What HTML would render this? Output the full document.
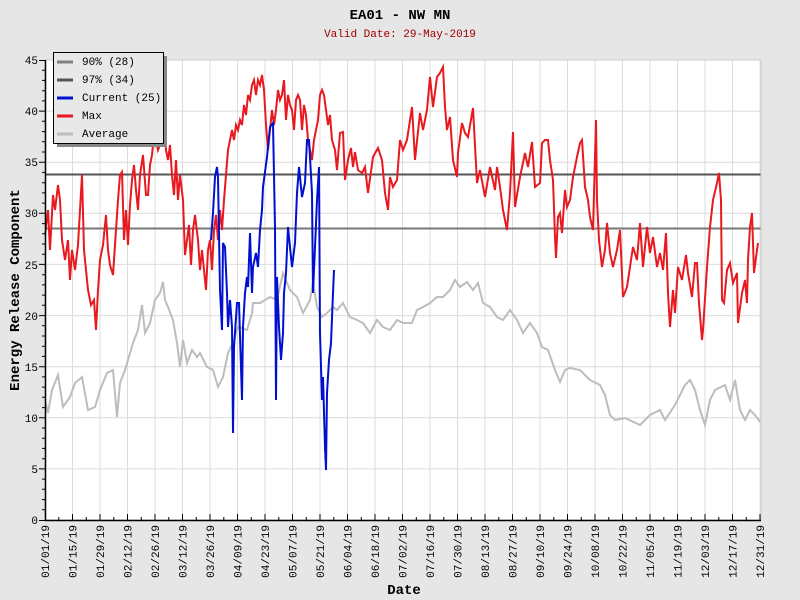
<!DOCTYPE html>
<html><head><meta charset="utf-8"><style>
body{margin:0;background:#e6e6e6;}
svg{display:block;font-family:"Liberation Mono","DejaVu Sans Mono",monospace;}
</style></head><body>
<svg width="800" height="600" viewBox="0 0 800 600">
<rect x="0" y="0" width="800" height="600" fill="#e6e6e6"/>
<rect x="45" y="60" width="716" height="460" fill="#fff"/>
<g stroke="#dcdcdc" stroke-width="1">
<line x1="72.5" y1="60" x2="72.5" y2="520"/><line x1="100" y1="60" x2="100" y2="520"/><line x1="127.5" y1="60" x2="127.5" y2="520"/><line x1="155" y1="60" x2="155" y2="520"/><line x1="182.5" y1="60" x2="182.5" y2="520"/><line x1="210" y1="60" x2="210" y2="520"/><line x1="237.5" y1="60" x2="237.5" y2="520"/><line x1="265" y1="60" x2="265" y2="520"/><line x1="292.5" y1="60" x2="292.5" y2="520"/><line x1="320" y1="60" x2="320" y2="520"/><line x1="347.5" y1="60" x2="347.5" y2="520"/><line x1="375" y1="60" x2="375" y2="520"/><line x1="402.5" y1="60" x2="402.5" y2="520"/><line x1="430" y1="60" x2="430" y2="520"/><line x1="457.5" y1="60" x2="457.5" y2="520"/><line x1="485" y1="60" x2="485" y2="520"/><line x1="512.5" y1="60" x2="512.5" y2="520"/><line x1="540" y1="60" x2="540" y2="520"/><line x1="567.5" y1="60" x2="567.5" y2="520"/><line x1="595" y1="60" x2="595" y2="520"/><line x1="622.5" y1="60" x2="622.5" y2="520"/><line x1="650" y1="60" x2="650" y2="520"/><line x1="677.5" y1="60" x2="677.5" y2="520"/><line x1="705" y1="60" x2="705" y2="520"/><line x1="732.5" y1="60" x2="732.5" y2="520"/><line x1="760" y1="60" x2="760" y2="520"/>
<line x1="45" y1="468.9" x2="761" y2="468.9"/><line x1="45" y1="417.8" x2="761" y2="417.8"/><line x1="45" y1="366.7" x2="761" y2="366.7"/><line x1="45" y1="315.6" x2="761" y2="315.6"/><line x1="45" y1="264.4" x2="761" y2="264.4"/><line x1="45" y1="213.3" x2="761" y2="213.3"/><line x1="45" y1="162.2" x2="761" y2="162.2"/><line x1="45" y1="111.1" x2="761" y2="111.1"/><line x1="45" y1="60" x2="761" y2="60"/>
</g>
<line x1="45" y1="174.5" x2="761" y2="174.5" stroke="#555" stroke-width="2"/>
<line x1="45" y1="228.5" x2="761" y2="228.5" stroke="#777" stroke-width="2"/>
<polyline fill="none" stroke="#bdbdbd" stroke-width="2" points="45,400 48,413 52,390 58,375 63,407 70,397 75,383 82,377 88,410 95,407 100,390 107,373 113,370 117,417 120,383 125,370 128,360 133,343 138,330 142,305 145,333 150,323 155,300 160,293 163,282 165,300 168,307 173,320 177,343 180,367 183,340 187,363 192,350 197,357 200,353 207,367 213,370 218,387 223,377 228,353 233,343 238,327 247,330 252,313 253,303 260,303 270,297 277,300 283,273 290,290 297,297 303,313 310,300 313,282 317,307 322,317 327,313 333,307 337,310 343,303 350,317 357,320 363,323 370,333 377,320 383,327 390,330 397,320 403,323 412,323 417,310 423,307 430,303 437,297 443,297 450,290 455,280 460,287 467,282 473,290 478,283 483,303 490,307 497,317 503,320 510,310 517,320 523,333 530,323 537,333 542,347 548,350 555,370 560,382 565,370 570,368 580,370 590,380 600,385 605,395 610,415 615,420 625,418 640,425 650,415 660,410 665,420 675,405 685,385 690,380 695,390 700,410 705,425 710,400 715,390 725,385 730,400 735,380 740,410 745,420 750,410 755,415 760,422"/>
<polyline fill="none" stroke="#e8191f" stroke-width="2" points="45,235 48,210 50,250 53,195 55,210 58,185 60,200 62,240 65,260 68,240 70,280 72,250 75,270 78,245 80,210 82,175 84,250 86,270 88,290 91,305 94,300 96,330 98,290 100,260 103,245 106,215 108,250 110,265 113,275 116,230 118,200 120,175 122,172 124,240 126,210 128,245 130,205 132,180 134,165 136,190 138,210 140,175 143,155 146,195 148,195 150,165 152,155 154,135 156,140 158,150 160,145 162,130 164,125 166,150 168,160 170,145 172,175 174,195 176,160 178,200 180,175 183,200 185,255 187,240 189,225 191,265 193,230 195,215 198,240 200,270 202,250 204,270 206,290 208,250 210,240 212,270 214,230 216,215 218,240 220,210 222,230 224,200 226,175 228,150 230,140 232,130 234,140 236,125 238,130 240,120 242,125 244,105 246,115 248,95 250,100 252,85 254,80 256,95 258,80 260,85 262,75 264,90 266,125 268,150 270,130 272,110 274,125 276,110 278,90 280,100 282,95 284,80 286,120 288,95 290,105 292,110 294,130 296,100 298,95 300,100 302,130 304,105 306,115 308,140 310,150 312,160 314,140 316,130 318,120 320,95 322,90 324,95 326,110 328,125 330,115 332,140 335,150 337,170 340,133 343,132 345,180 348,160 351,148 353,167 355,152 358,170 362,173 365,167 368,193 373,157 378,148 382,160 385,193 388,210 390,177 393,187 397,180 400,140 403,150 407,140 412,107 415,160 420,113 423,130 427,110 430,77 433,107 437,77 440,73 443,67 445,107 447,130 450,117 453,160 457,177 458,153 462,123 465,133 468,137 473,108 477,183 480,170 485,197 490,167 495,190 497,167 500,187 503,210 507,230 510,193 513,132 515,207 520,177 525,153 528,167 532,142 535,187 540,183 542,143 545,140 548,140 550,160 553,180 555,237 556,258 558,217 560,213 562,233 565,190 567,207 570,200 573,177 577,157 580,143 582,140 585,187 588,200 590,217 593,230 596,120 597,200 599,240 602,267 605,250 607,223 610,253 613,267 617,250 620,230 623,297 627,287 630,267 633,247 637,260 640,223 643,267 647,227 650,253 653,237 657,267 660,253 663,270 666,233 668,293 670,327 673,290 675,313 678,267 682,280 686,255 688,273 692,297 695,263 697,263 699,303 702,340 703,330 707,267 710,227 713,200 717,183 719,173 721,200 722,300 724,303 727,270 730,263 733,283 737,273 738,323 742,293 745,280 747,303 748,260 750,227 752,213 754,273 757,250 758,243"/>
<polyline fill="none" stroke="#0010d0" stroke-width="2" points="211,240 213,213 215,177 217,167 218,177 220,290 222,330 223,243 225,247 227,293 228,327 230,300 232,327 233,433 234,347 237,303 239,303 242,400 243,327 245,293 247,277 248,287 250,233 252,293 253,267 256,253 258,267 260,230 262,210 263,187 267,157 270,127 273,123 275,227 276,400 277,277 279,327 281,360 283,333 284,293 286,273 288,227 292,267 295,243 297,193 299,167 302,197 305,183 307,140 309,140 312,193 313,293 315,247 317,200 319,167 320,333 322,400 323,377 325,447 326,470 327,393 329,360 331,343 333,293 334,270"/>
<rect x="45" y="60" width="716" height="460" fill="none" stroke="#ccc" stroke-width="1"/>
<line x1="45.5" y1="60" x2="45.5" y2="521" stroke="#000" stroke-width="1.5"/>
<line x1="45" y1="520.5" x2="761" y2="520.5" stroke="#000" stroke-width="1.5"/>
<g stroke="#000" stroke-width="1">
<path d="M39,520.5h6M39,468.9h6M39,417.8h6M39,366.7h6M39,315.6h6M39,264.4h6M39,213.3h6M39,162.2h6M39,111.1h6M39,60.5h6"/>
<path d="M42,509.8h3M42,499.6h3M42,489.3h3M42,479.1h3M42,458.7h3M42,448.4h3M42,438.2h3M42,428h3M42,407.6h3M42,397.3h3M42,387.1h3M42,376.9h3M42,356.4h3M42,346.2h3M42,336h3M42,325.8h3M42,305.3h3M42,295.1h3M42,284.9h3M42,274.7h3M42,254.2h3M42,244h3M42,233.8h3M42,223.6h3M42,203.1h3M42,192.9h3M42,182.7h3M42,172.4h3M42,152h3M42,141.8h3M42,131.6h3M42,121.3h3M42,100.9h3M42,90.7h3M42,80.4h3M42,70.2h3"/>
<path d="M72.5,520v-6M100,520v-6M127.5,520v-6M155,520v-6M182.5,520v-6M210,520v-6M237.5,520v-6M265,520v-6M292.5,520v-6M320,520v-6M347.5,520v-6M375,520v-6M402.5,520v-6M430,520v-6M457.5,520v-6M485,520v-6M512.5,520v-6M540,520v-6M567.5,520v-6M595,520v-6M622.5,520v-6M650,520v-6M677.5,520v-6M705,520v-6M732.5,520v-6M760,520v-6"/>
<path d="M58.8,520v-3M86.3,520v-3M113.8,520v-3M141.3,520v-3M168.8,520v-3M196.3,520v-3M223.8,520v-3M251.3,520v-3M278.8,520v-3M306.3,520v-3M333.8,520v-3M361.3,520v-3M388.8,520v-3M416.3,520v-3M443.8,520v-3M471.3,520v-3M498.8,520v-3M526.3,520v-3M553.8,520v-3M581.3,520v-3M608.8,520v-3M636.3,520v-3M663.8,520v-3M691.3,520v-3M718.8,520v-3M746.3,520v-3"/>
</g>
<g font-size="11" fill="#000" text-anchor="end">
<text x="38" y="524">0</text><text x="38" y="473">5</text><text x="38" y="422">10</text><text x="38" y="371">15</text><text x="38" y="320">20</text><text x="38" y="269">25</text><text x="38" y="217">30</text><text x="38" y="166">35</text><text x="38" y="115">40</text><text x="38" y="64">45</text>
</g>
<g font-size="11" fill="#000" text-anchor="end">
<text transform="translate(49,525) rotate(-90)">01/01/19</text><text transform="translate(76.5,525) rotate(-90)">01/15/19</text><text transform="translate(104,525) rotate(-90)">01/29/19</text><text transform="translate(131.5,525) rotate(-90)">02/12/19</text><text transform="translate(159,525) rotate(-90)">02/26/19</text><text transform="translate(186.5,525) rotate(-90)">03/12/19</text><text transform="translate(214,525) rotate(-90)">03/26/19</text><text transform="translate(241.5,525) rotate(-90)">04/09/19</text><text transform="translate(269,525) rotate(-90)">04/23/19</text><text transform="translate(296.5,525) rotate(-90)">05/07/19</text><text transform="translate(324,525) rotate(-90)">05/21/19</text><text transform="translate(351.5,525) rotate(-90)">06/04/19</text><text transform="translate(379,525) rotate(-90)">06/18/19</text><text transform="translate(406.5,525) rotate(-90)">07/02/19</text><text transform="translate(434,525) rotate(-90)">07/16/19</text><text transform="translate(461.5,525) rotate(-90)">07/30/19</text><text transform="translate(489,525) rotate(-90)">08/13/19</text><text transform="translate(516.5,525) rotate(-90)">08/27/19</text><text transform="translate(544,525) rotate(-90)">09/10/19</text><text transform="translate(571.5,525) rotate(-90)">09/24/19</text><text transform="translate(599,525) rotate(-90)">10/08/19</text><text transform="translate(626.5,525) rotate(-90)">10/22/19</text><text transform="translate(654,525) rotate(-90)">11/05/19</text><text transform="translate(681.5,525) rotate(-90)">11/19/19</text><text transform="translate(709,525) rotate(-90)">12/03/19</text><text transform="translate(736.5,525) rotate(-90)">12/17/19</text><text transform="translate(764,525) rotate(-90)">12/31/19</text>
</g>
<text x="400" y="19" font-size="14" font-weight="bold" text-anchor="middle" fill="#000">EA01 - NW MN</text>
<text x="400" y="37" font-size="11" text-anchor="middle" fill="#a00000">Valid Date: 29-May-2019</text>
<text x="404" y="594" font-size="14" font-weight="bold" text-anchor="middle" fill="#000">Date</text>
<text transform="translate(19,290) rotate(-90)" font-size="14" font-weight="bold" text-anchor="middle" fill="#000">Energy Release Component</text>
<rect x="57" y="56" width="110" height="91" fill="#888"/>
<rect x="53.5" y="52.5" width="110" height="91" fill="#e8e8e8" stroke="#000" stroke-width="1"/>
<g stroke-width="3">
<line x1="57" y1="62" x2="73" y2="62" stroke="#808080"/>
<line x1="57" y1="80" x2="73" y2="80" stroke="#555"/>
<line x1="57" y1="98" x2="73" y2="98" stroke="#0010d0"/>
<line x1="57" y1="116" x2="73" y2="116" stroke="#e8191f"/>
<line x1="57" y1="134" x2="73" y2="134" stroke="#bdbdbd"/>
</g>
<g font-size="11" fill="#000">
<text x="82" y="65">90% (28)</text><text x="82" y="83">97% (34)</text><text x="82" y="101">Current (25)</text><text x="82" y="119">Max</text><text x="82" y="137">Average</text>
</g>
</svg>
</body></html>
